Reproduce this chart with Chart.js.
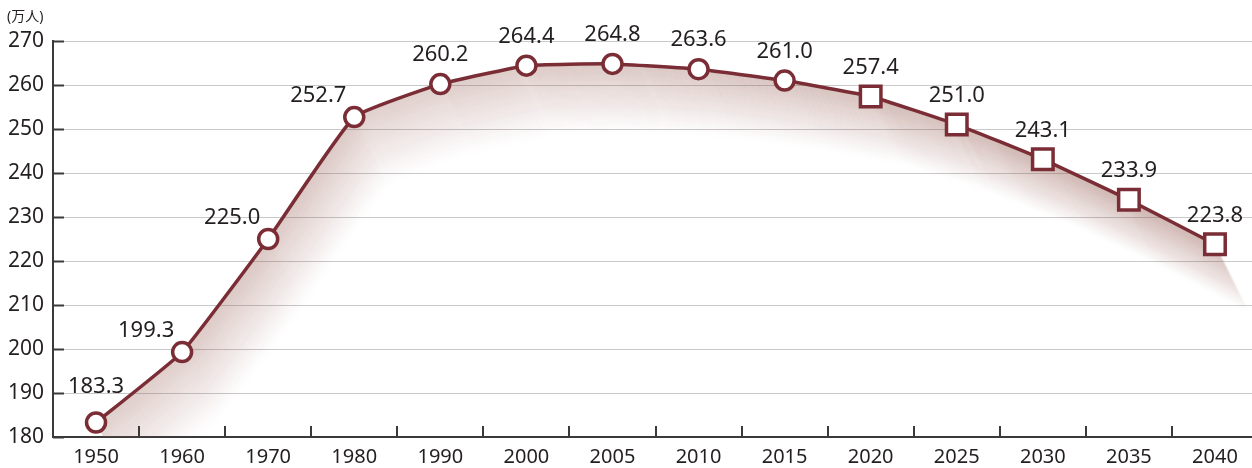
<!DOCTYPE html>
<html>
<head>
<meta charset="utf-8">
<script src="https://cdn.jsdelivr.net/npm/chart.js@4.4.1/dist/chart.umd.min.js"></script>
<style>
  html, body { margin: 0; padding: 0; background: #fff; overflow: hidden; }
  canvas { display: block; }
</style>
</head>
<body>
<canvas id="popChart" width="1258" height="468"></canvas>
<script>
const years = ['1950', '1960', '1970', '1980', '1990', '2000', '2005', '2010', '2015', '2020', '2025', '2030', '2035', '2040'];
const population = [183.3, 199.3, 225.0, 252.7, 260.2, 264.4, 264.8, 263.6, 261.0, 257.4, 251.0, 243.1, 233.9, 223.8];
const yTicks = [180, 190, 200, 210, 220, 230, 240, 250, 260, 270];
const unitLabel = '(万人)';
const firstProjected = 9; // 2020 onward drawn as squares

const lineColor = '#7b2d36';
const textColor = '#231f20';
const fontFamily = '"Noto Sans", "Noto Sans CJK JP", sans-serif';

function linePath(ctx, pts) {
    ctx.beginPath();
    ctx.moveTo(pts[0].x, pts[0].y);
    for (let i = 1; i < pts.length; i++) {
        const p = pts[i - 1], c = pts[i];
        ctx.bezierCurveTo(p.cp2x, p.cp2y, c.cp1x, c.cp1y, c.x, c.y);
    }
}

// soft brown smear below the line
const shadePlugin = {
    id: 'shade',
    beforeDatasetsDraw(chart) {
        const ctx = chart.ctx;
        const area = chart.chartArea;
        const pts = chart.getDatasetMeta(0).data;
        const steps = 72;
        ctx.save();
        ctx.beginPath();
        ctx.rect(area.left, area.top, area.right - area.left, area.bottom - area.top);
        ctx.clip();
        ctx.lineWidth = 3;
        ctx.lineJoin = 'round';
        for (let i = steps; i >= 1; i--) {
            const a = 0.13 * Math.pow(1 - i / steps, 1.2);
            ctx.save();
            ctx.translate(i * 0.5, i);
            ctx.strokeStyle = `rgba(150, 95, 85, ${a})`;
            linePath(ctx, pts);
            ctx.stroke();
            ctx.restore();
        }
        ctx.restore();
    }
};

// inward tick marks, unit label and value labels
const decorPlugin = {
    id: 'decor',
    afterDatasetsDraw(chart) {
        const ctx = chart.ctx;
        const area = chart.chartArea;
        const x = chart.scales.x;
        const y = chart.scales.y;
        ctx.save();
        ctx.strokeStyle = '#3a3a3a';
        ctx.lineWidth = 2;
        yTicks.forEach(v => {
            const py = Math.round(y.getPixelForValue(v)) + 0.5;
            ctx.beginPath();
            ctx.moveTo(area.left, py);
            ctx.lineTo(area.left + 11, py);
            ctx.stroke();
        });
        for (let i = 0; i < years.length - 1; i++) {
            const px = Math.round((x.getPixelForTick(i) + x.getPixelForTick(i + 1)) / 2);
            ctx.beginPath();
            ctx.moveTo(px, area.bottom);
            ctx.lineTo(px, area.bottom - 11);
            ctx.stroke();
        }

        ctx.fillStyle = textColor;
        ctx.font = `14px ${fontFamily}`;
        ctx.textAlign = 'left';
        ctx.textBaseline = 'middle';
        ctx.fillText(unitLabel, 7, 17);

        ctx.font = `22px ${fontFamily}`;
        ctx.textAlign = 'center';
        const pts = chart.getDatasetMeta(0).data;
        pts.forEach((p, i) => {
            let dx = 0, dy = -29;
            if (i === 0) dy = -36;
            else if (i < 4) { dx = -36; dy = -21; }
            ctx.fillText(population[i].toFixed(1), p.x + dx, p.y + dy);
        });
        ctx.restore();
    }
};

new Chart(document.getElementById('popChart'), {
    type: 'line',
    data: {
        labels: years,
        datasets: [{
            data: population,
            borderColor: lineColor,
            borderWidth: 3.5,
            tension: 0.12,
            fill: false,
            pointStyle: years.map((_, i) => i < firstProjected ? 'circle' : 'rect'),
            pointRadius: years.map((_, i) => i < firstProjected ? 9.5 : 14.5),
            pointBorderWidth: 3.5,
            pointBackgroundColor: '#fff',
            pointBorderColor: lineColor
        }]
    },
    options: {
        responsive: false,
        animation: false,
        layout: { autoPadding: false, padding: { top: 41, left: 0, right: 0, bottom: 0 } },
        plugins: { legend: { display: false }, tooltip: { enabled: false } },
        scales: {
            x: {
                offset: true,
                grid: { display: false, drawTicks: false },
                border: { color: '#3a3a3a', width: 2 },
                ticks: { color: textColor, font: { family: fontFamily, size: 20 }, padding: 8, maxRotation: 0 },
                afterFit: s => { s.height = 31; s.paddingLeft = 0; s.paddingRight = 0; }
            },
            y: {
                min: 180,
                max: 270,
                afterBuildTicks: s => { s.ticks = yTicks.map(v => ({ value: v })); },
                grid: { color: '#c9c9c9', lineWidth: 1, drawTicks: false },
                border: { color: '#3a3a3a', width: 2 },
                ticks: { color: textColor, font: { family: fontFamily, size: 21 }, padding: 9 },
                afterFit: s => { s.width = 53; s.paddingTop = 0; s.paddingBottom = 0; }
            }
        }
    },
    plugins: [shadePlugin, decorPlugin]
});
</script>
</body>
</html>
